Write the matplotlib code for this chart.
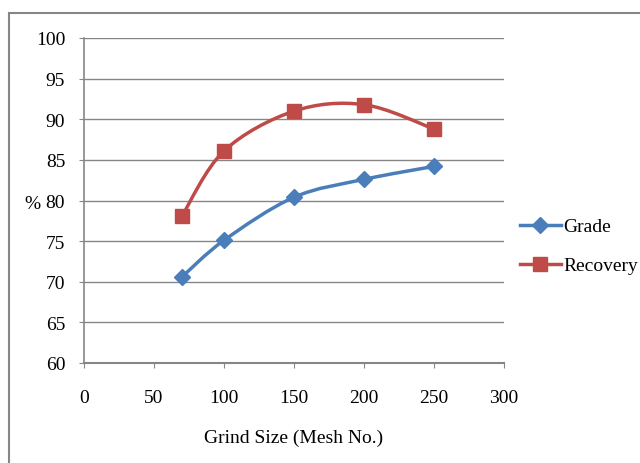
import matplotlib
matplotlib.use("Agg")
import matplotlib.pyplot as plt
from matplotlib.path import Path
from matplotlib.patches import PathPatch, Rectangle
from matplotlib.lines import Line2D

plt.rcParams['font.family'] = ['Liberation Serif', 'DejaVu Serif']

# data
mesh = [70, 100, 150, 200, 250]
grade = [70.6, 75.1, 80.4, 82.6, 84.2]
recovery = [78.1, 86.1, 91.0, 91.8, 88.8]

blue = '#4A7EBB'
red = '#BE4B48'
gray = '#868686'
fs = 14


def smooth_path(x, y):
    # Catmull-Rom style bezier through the points (like Excel's smoothed line)
    pts = list(zip(x, y))
    verts = [pts[0]]
    codes = [Path.MOVETO]
    n = len(pts)
    for i in range(n - 1):
        p0 = pts[i - 1] if i > 0 else pts[i]
        p1 = pts[i]
        p2 = pts[i + 1]
        p3 = pts[i + 2] if i + 2 < n else pts[i + 1]
        c1 = (p1[0] + (p2[0] - p0[0]) / 6, p1[1] + (p2[1] - p0[1]) / 6)
        c2 = (p2[0] - (p3[0] - p1[0]) / 6, p2[1] - (p3[1] - p1[1]) / 6)
        verts += [c1, c2, p2]
        codes += [Path.CURVE4] * 3
    return Path(verts, codes)


fig = plt.figure(figsize=(6.4, 4.64), dpi=100)
fig.patches.append(Rectangle((9 / 640, -0.1), 1.0, 1 - 14 / 464 + 0.1,
                             transform=fig.transFigure, fill=False,
                             edgecolor=gray, linewidth=1.5))

ax = fig.add_axes([84 / 640, 1 - 364 / 464, 420 / 640, 325 / 464])

for ys, col, mk, ms in [(grade, blue, 'D', 8.5), (recovery, red, 's', 10.5)]:
    ax.add_patch(PathPatch(smooth_path(mesh, ys), facecolor='none',
                           edgecolor=col, linewidth=2.5, zorder=3))
    ax.plot(mesh, ys, linestyle='none', marker=mk, markersize=ms,
            color=col, zorder=4)

ax.set_xlim(0, 300)
ax.set_ylim(60, 100)
ax.set_xticks(range(0, 301, 50))
ax.set_yticks(range(60, 101, 5))
ax.yaxis.grid(True, color=gray, linewidth=1)
ax.set_axisbelow(True)
for s in ['top', 'right']:
    ax.spines[s].set_visible(False)
ax.spines['left'].set_color(gray)
ax.spines['bottom'].set_color(gray)
ax.spines['left'].set_linewidth(1.2)
ax.spines['bottom'].set_linewidth(1.5)
ax.tick_params(axis='y', direction='out', length=3.5, color=gray, pad=10,
               labelsize=fs)
ax.tick_params(axis='x', direction='out', length=3.5, color=gray, pad=15,
               labelsize=fs)

ax.set_xlabel('Grind Size (Mesh No.)', fontsize=fs, va='center')
ax.xaxis.set_label_coords(0.5, (364 - 438) / 325)
ax.set_ylabel('%', fontsize=fs, rotation=0, va='center', ha='center')
ax.yaxis.set_label_coords((32 - 84) / 420, (364 - 205) / 325)

handles = [Line2D([], [], color=blue, lw=2.5, marker='D', markersize=8.5),
           Line2D([], [], color=red, lw=2.5, marker='s', markersize=10.5)]
fig.legend(handles, ['Grade', 'Recovery'], loc='center left',
           bbox_to_anchor=(520 / 640, 1 - 247 / 464), frameon=False,
           fontsize=fs, handlelength=2.1, handletextpad=0.12, labelspacing=1.1,
           borderaxespad=0, borderpad=0)

fig.savefig('out.png', dpi=100)
